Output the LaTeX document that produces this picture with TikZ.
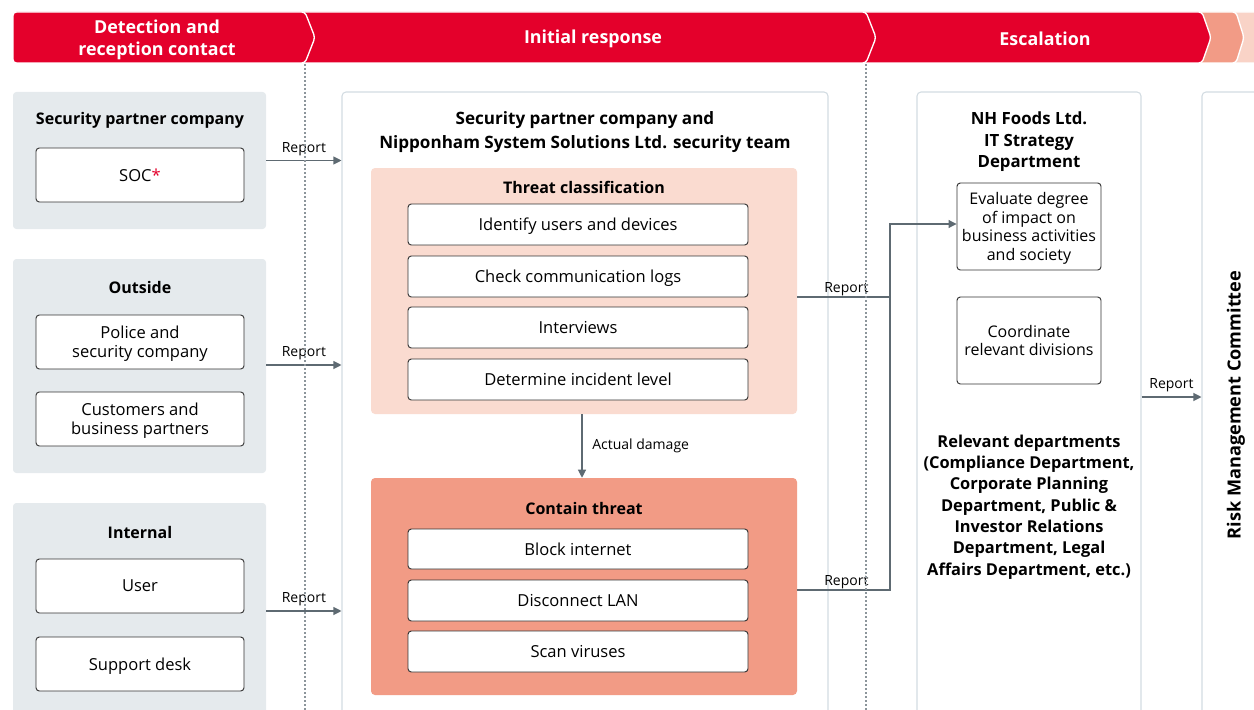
\documentclass[tikz,border=0pt]{standalone}
\usepackage{fontspec}
\setmainfont{Open Sans}
\usetikzlibrary{arrows.meta}

\definecolor{hdrred}{HTML}{E4002B}
\definecolor{hdrsalmon}{HTML}{F29B86}
\definecolor{hdrpink}{HTML}{F9D3C7}
\definecolor{grayband}{HTML}{E5EAED}
\definecolor{panelline}{HTML}{D3DCE2}
\definecolor{pinkfill}{HTML}{FADBD0}
\definecolor{salmonfill}{HTML}{F29B85}
\definecolor{arrowgray}{HTML}{5E6A72}
\definecolor{boxline}{HTML}{333333}
\definecolor{dotgray}{HTML}{8C959B}

% rectangle node given by its corners (x1,y1) (x2,y2) in pixel units
\newcommand{\rbox}[6][]{\node[#1, minimum width={(#4-#2)*0.75pt}, minimum height={(#5-#3)*0.75pt}] (#6) at ({(#2+#4)/2},{(#3+#5)/2})}

\begin{document}
\begin{tikzpicture}[x=0.75pt,y=-0.75pt,
  chev/.style={draw=white, line width=1pt, rounded corners=2.5pt},
  hdr/.style={font=\fontsize{13.4}{16.5}\selectfont\bfseries, text=white, align=center},
  grp/.style={fill=grayband, rounded corners=2.5pt, inner sep=0pt},
  panel/.style={draw=panelline, line width=0.8pt, fill=white, rounded corners=3pt, inner sep=0pt},
  item/.style={draw=boxline, line width=0.7pt, fill=white, rounded corners=2.5pt, inner sep=0pt,
    align=center, text depth=-2.4pt, font=\fontsize{12.4}{14.25}\selectfont},
  ttl/.style={font=\fontsize{12}{16}\selectfont\bfseries, align=center},
  lbl/.style={font=\fontsize{10.5}{12}\selectfont},
  conn/.style={draw=arrowgray, line width=0.8pt},
  rep/.style={conn, -{Triangle[length=6pt,width=6pt]}},
  sep/.style={draw=dotgray, line width=0.8pt, dash pattern=on 1.5pt off 1.5pt}
]
\useasboundingbox (0,0) rectangle (1254,710);
\clip (0,0) rectangle (1254,710);

% ---- phase header (drawn right to left so each chevron overlaps the next) ----
\path[chev, fill=hdrpink]   (13,12) -- (1290,12) -- (1290,63) -- (13,63) -- cycle;
\path[chev, fill=hdrsalmon] (13,12) -- (1236,12) -- (1244,37.5) -- (1236,63) -- (13,63) -- cycle;
\path[chev, fill=hdrred]    (13,12) -- (1202,12) -- (1211,37.5) -- (1202,63) -- (13,63) -- cycle;
\path[chev, fill=hdrred]    (13,12) -- (866,12) -- (876,37.5) -- (866,63) -- (13,63) -- cycle;
\path[chev, fill=hdrred]    (13,12) -- (305,12) -- (315,37.5) -- (305,63) -- (13,63) -- cycle;

\node[hdr] (h1) at (157,40) {Detection and\\reception contact};
\node[hdr] (h2) at (593,39) {Initial response};
\node[hdr] (h3) at (1045,39) {Escalation};

% ---- detection sources ----
\rbox[grp]{13}{92}{266}{229}{g1} {};
\node[ttl] (g1t) at (140,120) {Security partner company};
\rbox[item]{36}{148}{244}{202}{soc} {SOC\textcolor{hdrred}{*}};

\rbox[grp]{13}{259}{266}{473}{g2} {};
\node[ttl] (g2t) at (140,287) {Outside};
\rbox[item]{36}{315}{244}{369}{police} {Police and\\security company};
\rbox[item]{36}{392}{244}{446}{cust} {Customers and\\business partners};

\rbox[grp]{13}{503}{266}{720}{g3} {};
\node[ttl] (g3t) at (140,532) {Internal};
\rbox[item]{36}{559}{244}{613}{user} {User};
\rbox[item]{36}{637}{244}{691}{desk} {Support desk};

% ---- initial response panel ----
\rbox[panel]{342}{92}{828}{740}{mid} {};
\node[ttl, font=\fontsize{12.8}{18}\selectfont\bfseries] (midt) at (585,132)
  {Security partner company and\\Nipponham System Solutions Ltd. security team};

\rbox[fill=pinkfill, rounded corners=3pt, inner sep=0pt]{371}{168}{797}{414}{threat} {};
\node[ttl] (threatt) at (584,187) {Threat classification};
\rbox[item]{408}{204}{748}{245}{ident} {Identify users and devices};
\rbox[item]{408}{256}{748}{297}{logs} {Check communication logs};
\rbox[item]{408}{307}{748}{348}{intv} {Interviews};
\rbox[item]{408}{359}{748}{400}{level} {Determine incident level};

\rbox[fill=salmonfill, rounded corners=3pt, inner sep=0pt]{371}{478}{797}{695}{contain} {};
\node[ttl] (containt) at (584,508) {Contain threat};
\rbox[item]{408}{529}{748}{569}{block} {Block internet};
\rbox[item]{408}{580}{748}{621}{lan} {Disconnect LAN};
\rbox[item]{408}{631}{748}{672}{scan} {Scan viruses};

% ---- escalation panel ----
\rbox[panel]{917}{92}{1141}{740}{esc} {};
\node[ttl, font=\fontsize{12.6}{16.1}\selectfont\bfseries] (esct) at (1029,142)
  {NH Foods Ltd.\\IT Strategy\\Department};
\rbox[item, font=\fontsize{12}{14}\selectfont]{957}{183}{1101}{270}{eval}
  {Evaluate degree\\of impact on\\business activities\\and society};
\rbox[item, font=\fontsize{12}{14}\selectfont]{957}{297}{1101}{384}{coord}
  {Coordinate\\relevant divisions};
\node[ttl, font=\fontsize{12.3}{16}\selectfont\bfseries] (depts) at (1029,507)
  {Relevant departments\\(Compliance Department,\\Corporate Planning\\Department, Public \&\\Investor Relations\\Department, Legal\\Affairs Department, etc.)};

% ---- risk management committee ----
\rbox[panel]{1202}{92}{1300}{740}{risk} {};
\node[ttl, rotate=90, font=\fontsize{13.6}{16}\selectfont\bfseries] (riskt) at (1236,405) {Risk Management Committee};

% ---- report flows ----
\draw[rep] (g1.east) -- node[lbl, above] {Report} (mid.west |- g1.east);
\draw[rep] (g2.east |- 0,365) -- node[lbl, above] {Report} (mid.west |- 0,365);
\draw[rep] (g3.east |- 0,611) -- node[lbl, above] {Report} (mid.west |- 0,611);

\draw[rep] (threat.south -| 582,0) -- node[lbl, right, xshift=4pt] {Actual damage} (contain.north -| 582,0);

\coordinate (jn) at (890,297);
\draw[conn] (threat.east |- jn) -- node[lbl, above, inner sep=0.6pt, pos=0.53] {Report} (jn);
\draw[rep] (jn) |- (eval.west |- 0,224);
\draw[conn] (contain.east |- 0,590) -- node[lbl, above, inner sep=0.6pt, pos=0.53] {Report} (890,590) -- (jn);

\draw[rep] (esc.east |- 0,397) -- node[lbl, above] {Report} (risk.west |- 0,397);

% ---- phase separators ----
\draw[sep] (305,64) -- (305,710);
\draw[sep] (866,64) -- (866,710);
\end{tikzpicture}
\end{document}
